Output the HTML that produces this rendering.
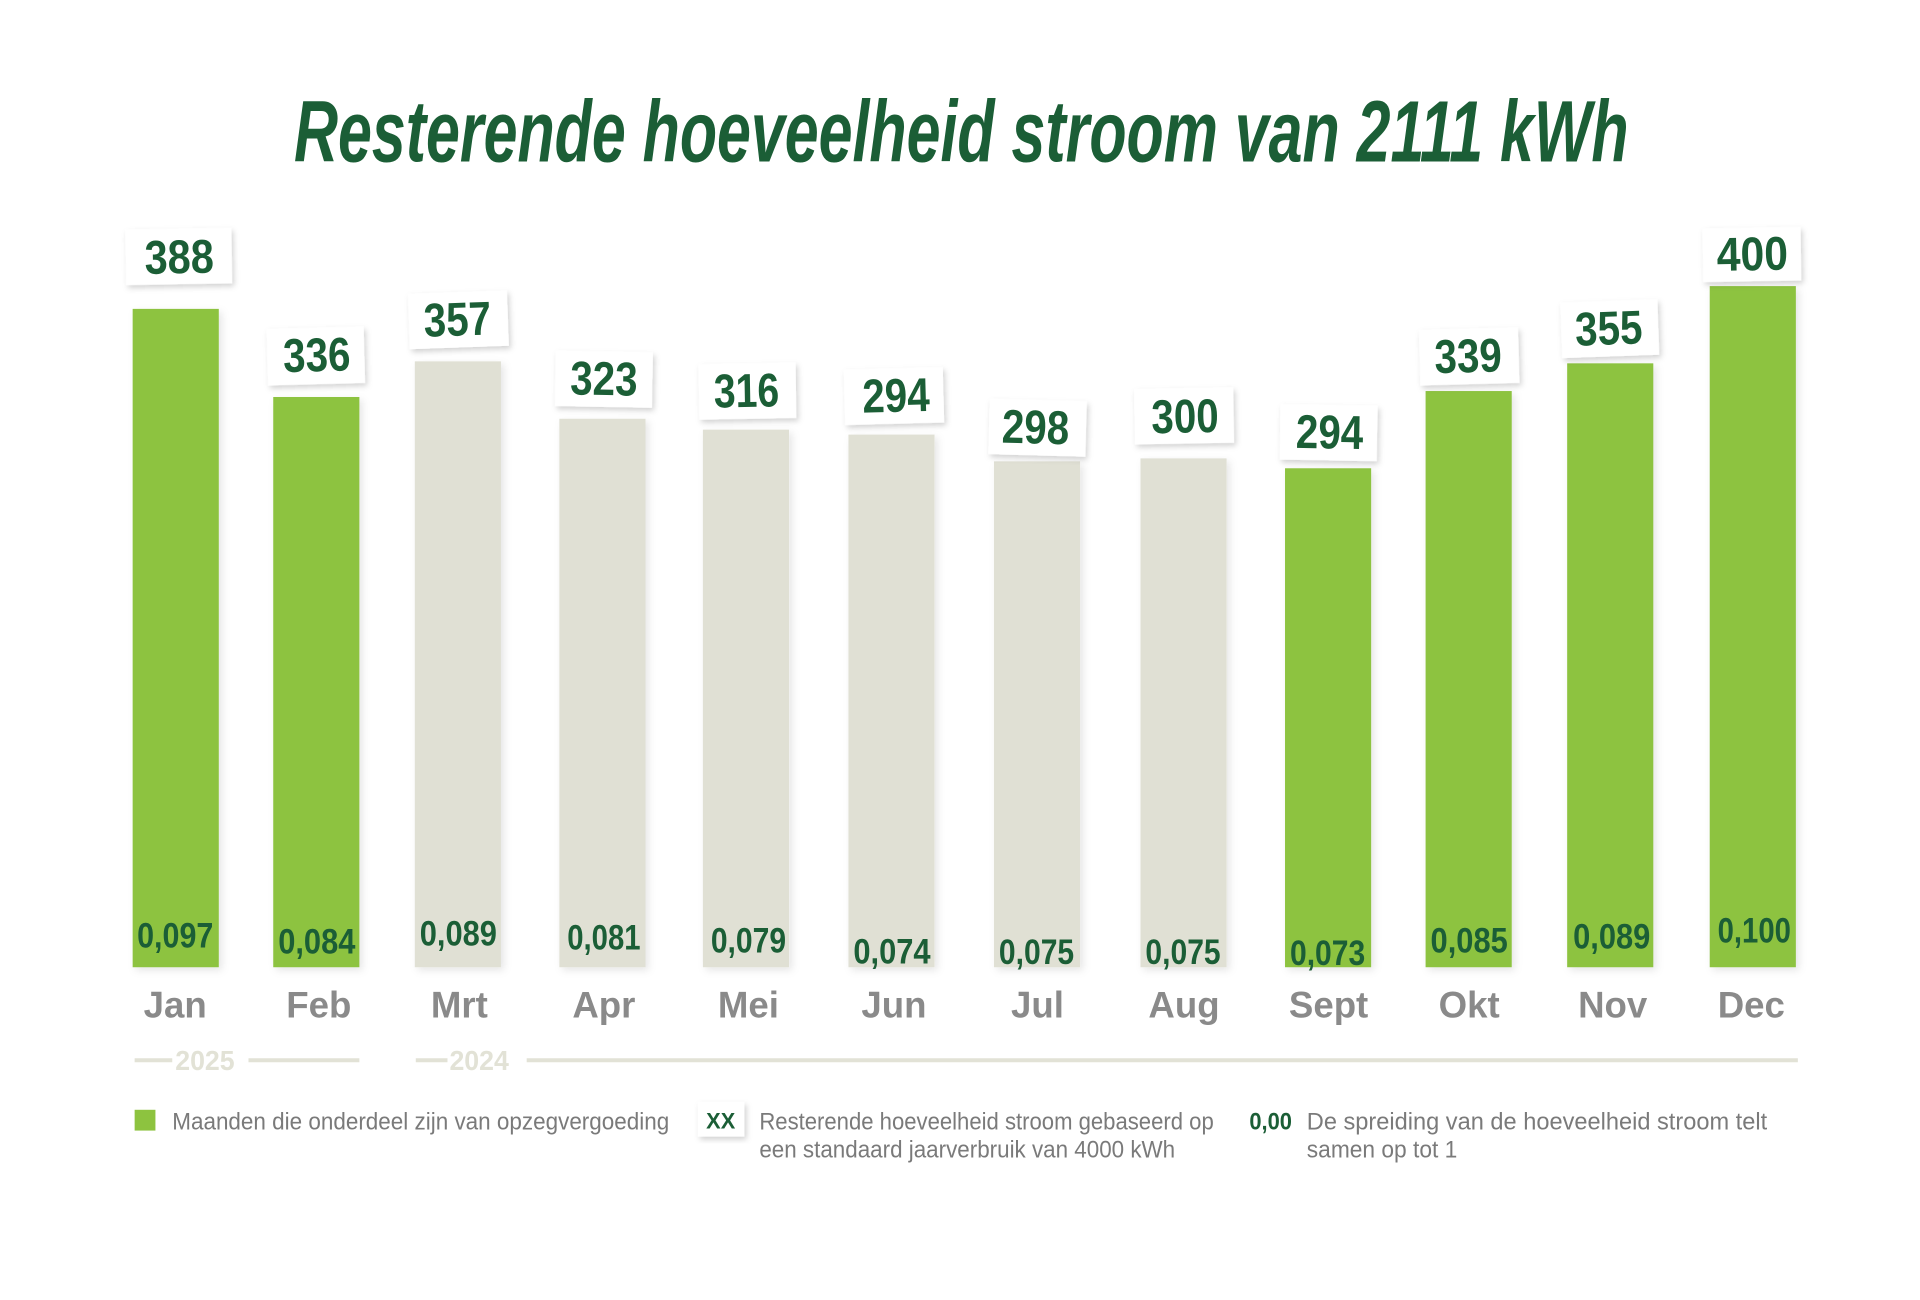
<!DOCTYPE html>
<html><head><meta charset="utf-8"><style>
html,body{margin:0;padding:0;background:#fff;}
svg{display:block;}
.n{font-family:"Liberation Sans Narrow","Liberation Sans",sans-serif;font-weight:bold;}
</style></head><body>
<svg width="1920" height="1300" viewBox="0 0 1920 1300" xmlns="http://www.w3.org/2000/svg">
<defs>
<filter id="sh" x="-20%" y="-20%" width="140%" height="140%"><feDropShadow dx="2" dy="3" stdDeviation="3" flood-color="#000" flood-opacity="0.18"/></filter>
<filter id="bs" x="-20%" y="-5%" width="140%" height="110%"><feDropShadow dx="3" dy="3" stdDeviation="4" flood-color="#000" flood-opacity="0.10"/></filter>
</defs>
<g transform="scale(0.99)">
<text x="971" y="163" text-anchor="middle" class="n" font-size="88" font-style="italic" fill="#1b5e36" textLength="1348" lengthAdjust="spacingAndGlyphs">Resterende hoeveelheid stroom van 2111 kWh</text>

<g filter="url(#bs)">
<rect x="134" y="312" width="87" height="665" fill="#8dc33f"/>
<rect x="276" y="401" width="87" height="576" fill="#8dc33f"/>
<rect x="419" y="365" width="87" height="612" fill="#e0e0d4"/>
<rect x="565" y="423" width="87" height="554" fill="#e0e0d4"/>
<rect x="710" y="434" width="87" height="543" fill="#e0e0d4"/>
<rect x="857" y="439" width="87" height="538" fill="#e0e0d4"/>
<rect x="1004" y="466" width="87" height="511" fill="#e0e0d4"/>
<rect x="1152" y="463" width="87" height="514" fill="#e0e0d4"/>
<rect x="1298" y="473" width="87" height="504" fill="#8dc33f"/>
<rect x="1440" y="395" width="87" height="582" fill="#8dc33f"/>
<rect x="1583" y="367" width="87" height="610" fill="#8dc33f"/>
<rect x="1727" y="289" width="87" height="688" fill="#8dc33f"/>
</g>

<g class="n" font-size="48" fill="#1b5e36" text-anchor="middle">
<g transform="rotate(-1 180 259)"><rect x="127" y="231" width="107" height="56" fill="#fff" filter="url(#sh)"/><text x="181" y="276" textLength="70" lengthAdjust="spacingAndGlyphs">388</text></g>
<g transform="rotate(-1.5 320 360)"><rect x="270" y="331" width="98" height="57" fill="#fff" filter="url(#sh)"/><text x="320" y="375" textLength="68" lengthAdjust="spacingAndGlyphs">336</text></g>
<g transform="rotate(-2 463 323)"><rect x="413" y="295" width="100" height="56" fill="#fff" filter="url(#sh)"/><text x="462" y="339" textLength="68" lengthAdjust="spacingAndGlyphs">357</text></g>
<g transform="rotate(1 610 383)"><rect x="561" y="355" width="98" height="56" fill="#fff" filter="url(#sh)"/><text x="610" y="399" textLength="68" lengthAdjust="spacingAndGlyphs">323</text></g>
<g transform="rotate(-1 755 395)"><rect x="706" y="367" width="98" height="56" fill="#fff" filter="url(#sh)"/><text x="754" y="411" textLength="66" lengthAdjust="spacingAndGlyphs">316</text></g>
<g transform="rotate(-1.5 903 400)"><rect x="853" y="372" width="100" height="56" fill="#fff" filter="url(#sh)"/><text x="905" y="416" textLength="68" lengthAdjust="spacingAndGlyphs">294</text></g>
<g transform="rotate(1.5 1048 432)"><rect x="999" y="404" width="98" height="56" fill="#fff" filter="url(#sh)"/><text x="1046" y="448" textLength="68" lengthAdjust="spacingAndGlyphs">298</text></g>
<g transform="rotate(-1 1196 420)"><rect x="1146" y="392" width="100" height="56" fill="#fff" filter="url(#sh)"/><text x="1197" y="437" textLength="68" lengthAdjust="spacingAndGlyphs">300</text></g>
<g transform="rotate(1 1342 437)"><rect x="1293" y="409" width="98" height="56" fill="#fff" filter="url(#sh)"/><text x="1343" y="453" textLength="68" lengthAdjust="spacingAndGlyphs">294</text></g>
<g transform="rotate(-1.5 1484 360)"><rect x="1434" y="332" width="100" height="56" fill="#fff" filter="url(#sh)"/><text x="1483" y="376" textLength="68" lengthAdjust="spacingAndGlyphs">339</text></g>
<g transform="rotate(-2 1626 332)"><rect x="1577" y="304" width="98" height="56" fill="#fff" filter="url(#sh)"/><text x="1625" y="348" textLength="68" lengthAdjust="spacingAndGlyphs">355</text></g>
<g transform="rotate(-1 1770 256)"><rect x="1720" y="230" width="99" height="54" fill="#fff" filter="url(#sh)"/><text x="1770" y="273" textLength="72" lengthAdjust="spacingAndGlyphs">400</text></g>
</g>

<g class="n" font-size="36" fill="#1b5e36" text-anchor="middle">
<text x="177" y="957" textLength="77" lengthAdjust="spacingAndGlyphs">0,097</text>
<text x="320" y="963" textLength="78" lengthAdjust="spacingAndGlyphs">0,084</text>
<text x="463" y="955" textLength="78" lengthAdjust="spacingAndGlyphs">0,089</text>
<text x="610" y="959" textLength="74" lengthAdjust="spacingAndGlyphs">0,081</text>
<text x="756" y="962" textLength="76" lengthAdjust="spacingAndGlyphs">0,079</text>
<text x="901" y="973" textLength="78" lengthAdjust="spacingAndGlyphs">0,074</text>
<text x="1047" y="974" textLength="76" lengthAdjust="spacingAndGlyphs">0,075</text>
<text x="1195" y="974" textLength="76" lengthAdjust="spacingAndGlyphs">0,075</text>
<text x="1341" y="975" textLength="76" lengthAdjust="spacingAndGlyphs">0,073</text>
<text x="1484" y="962" textLength="78" lengthAdjust="spacingAndGlyphs">0,085</text>
<text x="1628" y="958" textLength="78" lengthAdjust="spacingAndGlyphs">0,089</text>
<text x="1772" y="952" textLength="74" lengthAdjust="spacingAndGlyphs">0,100</text>
</g>

<g class="n" font-size="37" fill="#8a8a8a" text-anchor="middle">
<text x="177" y="1028">Jan</text>
<text x="322" y="1028">Feb</text>
<text x="464" y="1028">Mrt</text>
<text x="610" y="1028">Apr</text>
<text x="756" y="1028">Mei</text>
<text x="903" y="1028">Jun</text>
<text x="1048" y="1028">Jul</text>
<text x="1196" y="1028">Aug</text>
<text x="1342" y="1028">Sept</text>
<text x="1484" y="1028">Okt</text>
<text x="1629" y="1028">Nov</text>
<text x="1769" y="1028">Dec</text>
</g>

<g stroke="#e2e2d6" stroke-width="4">
<line x1="136" y1="1071" x2="174" y2="1071"/>
<line x1="251" y1="1071" x2="363" y2="1071"/>
<line x1="420" y1="1071" x2="452" y2="1071"/>
<line x1="532" y1="1071" x2="1816" y2="1071"/>
</g>
<g class="n" font-size="28" fill="#e2e2d6">
<text x="177" y="1081" textLength="60" lengthAdjust="spacingAndGlyphs">2025</text>
<text x="454" y="1081" textLength="60" lengthAdjust="spacingAndGlyphs">2024</text>
</g>

<rect x="136" y="1121" width="21" height="21" fill="#8dc33f"/>
<g font-family="'Liberation Sans Narrow','Liberation Sans',sans-serif" font-size="24" fill="#7a7a7a">
<text x="174" y="1141" textLength="502" lengthAdjust="spacingAndGlyphs">Maanden die onderdeel zijn van opzegvergoeding</text>
<text x="767" y="1141" textLength="459" lengthAdjust="spacingAndGlyphs">Resterende hoeveelheid stroom gebaseerd op</text>
<text x="767" y="1169" textLength="420" lengthAdjust="spacingAndGlyphs">een standaard jaarverbruik van 4000 kWh</text>
<text x="1320" y="1141" textLength="465" lengthAdjust="spacingAndGlyphs">De spreiding van de hoeveelheid stroom telt</text>
<text x="1320" y="1169" textLength="152" lengthAdjust="spacingAndGlyphs">samen op tot 1</text>
</g>
<rect x="705" y="1113" width="47" height="35" fill="#fff" filter="url(#sh)"/>
<text x="728" y="1140" text-anchor="middle" class="n" font-size="22" fill="#1b5e36">XX</text>
<text x="1262" y="1141" class="n" font-size="24" fill="#1b5e36" textLength="43" lengthAdjust="spacingAndGlyphs">0,00</text>
</g>
</svg>
</body></html>
